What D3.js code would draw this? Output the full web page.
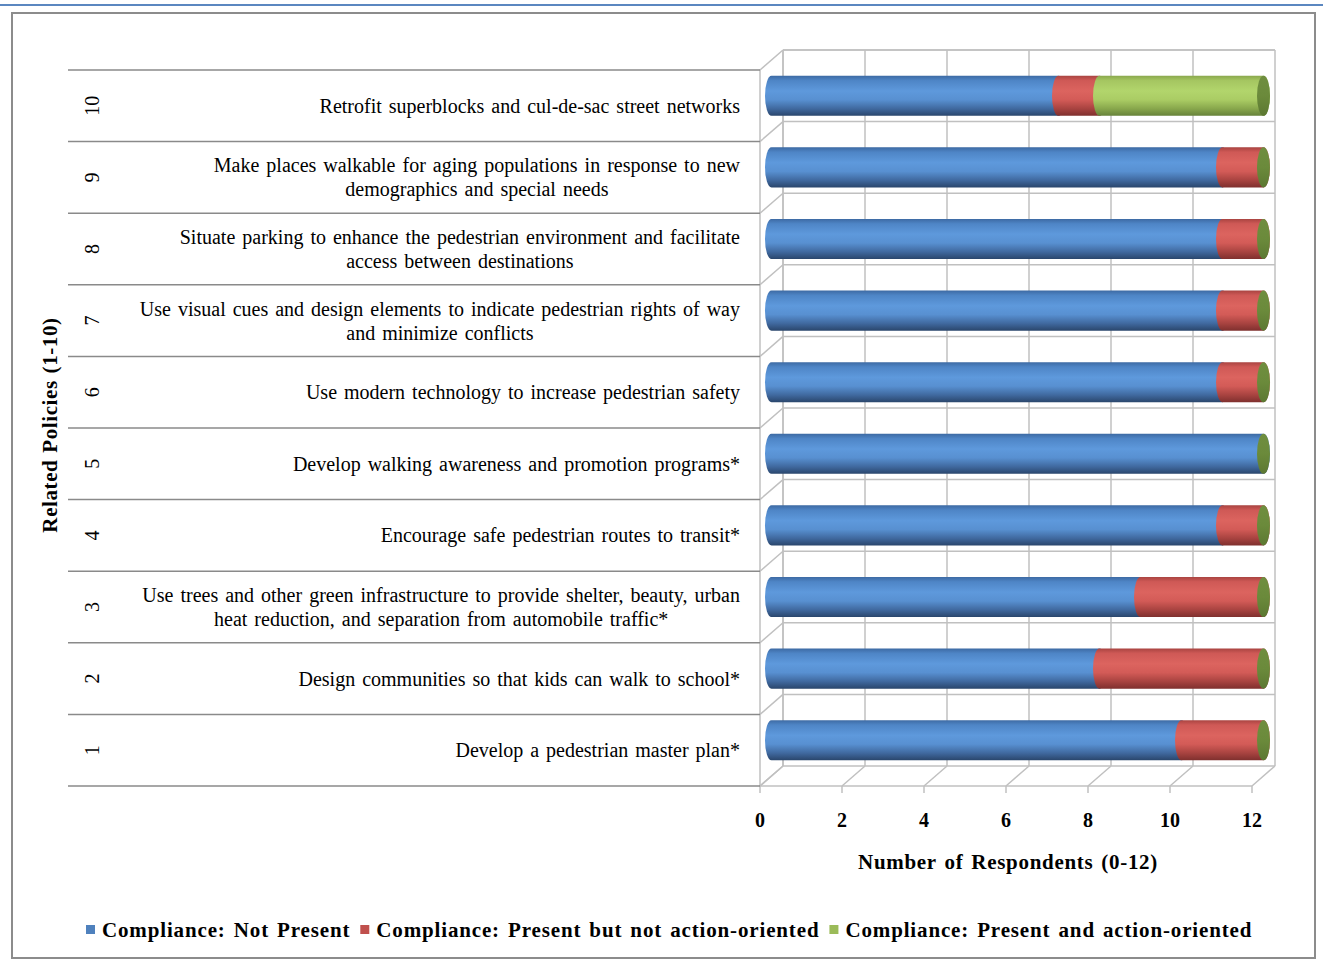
<!DOCTYPE html>
<html>
<head>
<meta charset="utf-8">
<script src="https://cdn.jsdelivr.net/npm/d3@7"></script>
<style>
  html, body { margin: 0; padding: 0; background: #fff; }
  svg { display: block; }
  text { font-family: "Liberation Serif", "Times New Roman", serif; fill: #000; }
</style>
</head>
<body>
<svg id="chart" width="1323" height="960"></svg>
<script>
// Policy numbers (bottom to top) and their descriptions ("\n" marks a line break)
const policyNumbers = [1, 2, 3, 4, 5, 6, 7, 8, 9, 10];
const policyLabels = [
  "Develop a pedestrian master plan*",
  "Design communities so that kids can walk to school*",
  "Use trees and other green infrastructure to provide shelter, beauty, urban\nheat reduction, and separation from automobile traffic*",
  "Encourage safe pedestrian routes to transit*",
  "Develop walking awareness and promotion programs*",
  "Use modern technology to increase pedestrian safety",
  "Use visual cues and design elements to indicate pedestrian rights of way\nand minimize conflicts",
  "Situate parking to enhance the pedestrian environment and facilitate\naccess between destinations",
  "Make places walkable for aging populations in response to new\ndemographics and special needs",
  "Retrofit superblocks and cul-de-sac street networks"
];

// Respondent counts per compliance level
const notPresent       = [10, 8, 9, 11, 12, 11, 11, 11, 11, 7];
const presentNotAction = [2, 4, 3, 1, 0, 1, 1, 1, 1, 1];
const presentAction    = [0, 0, 0, 0, 0, 0, 0, 0, 0, 4];

const seriesNames = [
  "Compliance: Not Present",
  "Compliance: Present but not action-oriented",
  "Compliance: Present and action-oriented"
];
const xTicks = [0, 2, 4, 6, 8, 10, 12];
const xTitle = "Number of Respondents (0-12)";
const yTitle = "Related Policies (1-10)";

const svg = d3.select("#chart");

// document rule and chart frame
svg.append("line").attr("x1", 0).attr("x2", 1323).attr("y1", 5).attr("y2", 5)
  .attr("stroke", "#5b87c0").attr("stroke-width", 2);
svg.append("rect").attr("x", 12).attr("y", 13).attr("width", 1303).attr("height", 945)
  .attr("fill", "none").attr("stroke", "#8c8c8c").attr("stroke-width", 2);

// front plane of the 3-D plot and its depth offset
const x = d3.scaleLinear().domain([0, 12]).range([760, 1252]);
const y = d3.scaleBand().domain(policyNumbers.slice().reverse()).range([70, 786]).paddingInner(0).paddingOuter(0);
const dx = 23, dy = -20;
const gridColor = "#c0c0c0";
const tableColor = "#8a8a8a";

const defs = svg.append("defs");
function cylGradient(id, stops) {
  const g = defs.append("linearGradient").attr("id", id)
    .attr("x1", 0).attr("y1", 0).attr("x2", 0).attr("y2", 1);
  stops.forEach(([o, c]) => g.append("stop").attr("offset", o).attr("stop-color", c));
}
cylGradient("gBlue", [[0, "#3d6aa3"], [0.12, "#4e85c6"], [0.38, "#5e99dc"], [0.6, "#5890d1"], [0.82, "#40699f"], [1, "#2a466c"]]);
cylGradient("gRed", [[0, "#a94441"], [0.12, "#cf5956"], [0.38, "#dc645f"], [0.6, "#d35b57"], [0.82, "#a84340"], [1, "#7f302e"]]);
cylGradient("gGreen", [[0, "#8aa84d"], [0.12, "#a5c661"], [0.38, "#b2d56c"], [0.6, "#aacc64"], [0.82, "#88a74c"], [1, "#66823a"]]);
cylGradient("gCap", [[0, "#6f8e3f"], [0.5, "#6b8a3b"], [1, "#5c7832"]]);
const fills = ["url(#gBlue)", "url(#gRed)", "url(#gGreen)"];

const grid = svg.append("g").attr("fill", "none").attr("stroke", gridColor).attr("stroke-width", 1.5);
const x0 = x(0), x1 = x(12), yTop = y.range()[0], yBot = y.range()[1];

// back wall
grid.append("line").attr("x1", x0 + dx).attr("x2", x0 + dx).attr("y1", yTop + dy).attr("y2", yBot + dy);
grid.append("line").attr("x1", x0 + dx).attr("x2", x1 + dx).attr("y1", yTop + dy).attr("y2", yTop + dy);
xTicks.forEach(t => {
  grid.append("line").attr("x1", x(t) + dx).attr("x2", x(t) + dx).attr("y1", yTop + dy).attr("y2", yBot + dy);
});
const boundaries = policyNumbers.map(p => y(p)).concat([yBot]);
boundaries.forEach(b => {
  grid.append("line").attr("x1", x0 + dx).attr("x2", x1 + dx).attr("y1", b + dy).attr("y2", b + dy);
  // side wall
  grid.append("line").attr("x1", x0).attr("x2", x0 + dx).attr("y1", b).attr("y2", b + dy);
});
grid.append("line").attr("x1", x0).attr("x2", x0).attr("y1", yTop).attr("y2", yBot);
// floor
grid.append("line").attr("x1", x0).attr("x2", x1).attr("y1", yBot).attr("y2", yBot);
xTicks.forEach(t => {
  grid.append("line").attr("x1", x(t)).attr("x2", x(t) + dx).attr("y1", yBot).attr("y2", yBot + dy);
  grid.append("line").attr("x1", x(t)).attr("x2", x(t)).attr("y1", yBot).attr("y2", yBot + 7);
});

// category table lines
const table = svg.append("g").attr("stroke", tableColor).attr("stroke-width", 1.5);
boundaries.forEach(b => {
  table.append("line").attr("x1", 68).attr("x2", x0).attr("y1", b).attr("y2", b);
});

// stacked cylinders at mid depth
const midDx = dx / 2, midDy = dy / 2;
const cylH = y.bandwidth() * 0.56, rx = 6.5;
function segmentPath(a, b, cy) {
  const r = cylH / 2;
  return `M${a},${cy - r} L${b},${cy - r} A${rx},${r} 0 0 1 ${b},${cy + r} L${a},${cy + r} A${rx},${r} 0 0 1 ${a},${cy - r} Z`;
}
const bars = svg.append("g");
policyNumbers.forEach((p, i) => {
  const cy = y(p) + y.bandwidth() / 2 + midDy;
  const vals = [notPresent[i], presentNotAction[i], presentAction[i]];
  let acc = 0;
  vals.forEach((v, s) => {
    if (v > 0) {
      bars.append("path")
        .attr("d", segmentPath(x(acc) + midDx, x(acc + v) + midDx, cy))
        .attr("fill", fills[s]);
    }
    acc += v;
  });
  bars.append("ellipse")
    .attr("cx", x(acc) + midDx).attr("cy", cy)
    .attr("rx", rx).attr("ry", cylH / 2)
    .attr("fill", "url(#gCap)");
});

// category labels
const labels = svg.append("g").attr("font-size", 20);
policyNumbers.forEach((p, i) => {
  const cy = y(p) + y.bandwidth() / 2;
  const lines = policyLabels[i].split("\n");
  const g = labels.append("g");
  const texts = lines.map((ln, k) => g.append("text")
    .attr("text-anchor", "middle")
    .attr("word-spacing", 2)
    .attr("y", cy + (k - (lines.length - 1) / 2) * 24)
    .attr("dy", "0.35em")
    .text(ln));
  const w = d3.max(texts, t => t.node().getComputedTextLength());
  texts.forEach(t => t.attr("x", 740 - w / 2));
  // outer level: policy number, rotated
  labels.append("text")
    .attr("transform", `translate(92,${cy}) rotate(-90)`)
    .attr("text-anchor", "middle").attr("dy", "0.35em")
    .text(p);
});

// value axis labels
const axisG = svg.append("g").attr("font-size", 20).attr("font-weight", "bold");
xTicks.forEach(t => {
  axisG.append("text").attr("x", x(t)).attr("y", 820).attr("dy", "0.35em")
    .attr("text-anchor", "middle").text(t);
});
axisG.append("text").attr("x", 1008).attr("y", 862).attr("dy", "0.35em")
  .attr("font-size", 21).attr("letter-spacing", 0.7).attr("word-spacing", 2)
  .attr("text-anchor", "middle").text(xTitle);
axisG.append("text")
  .attr("transform", `translate(50,425) rotate(-90)`)
  .attr("font-size", 21).attr("letter-spacing", 0.6).attr("word-spacing", 1)
  .attr("text-anchor", "middle").attr("dy", "0.35em").text(yTitle);

// legend
const legendColors = ["#4f81bd", "#c0504d", "#9bbb59"];
const legend = svg.append("g").attr("font-size", 21).attr("font-weight", "bold");
let lx = 86;
seriesNames.forEach((name, s) => {
  legend.append("rect").attr("x", lx).attr("y", 925).attr("width", 9).attr("height", 9)
    .attr("fill", legendColors[s]);
  const t = legend.append("text").attr("x", lx + 16).attr("y", 930).attr("dy", "0.35em")
    .attr("letter-spacing", 0.85).attr("word-spacing", 2).text(name);
  lx += 16 + t.node().getComputedTextLength() + 10;
});
</script>
</body>
</html>
